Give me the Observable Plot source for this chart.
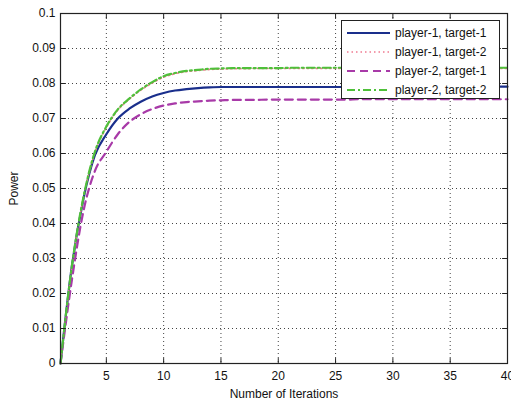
<!DOCTYPE html>
<html><head><meta charset="utf-8">
<script src="https://cdn.jsdelivr.net/npm/d3@7"></script>
<script src="https://cdn.jsdelivr.net/npm/@observablehq/plot@0.6"></script>
<style>
html,body{margin:0;padding:0;background:#fff;}
#wrap{position:relative;width:511px;height:402px;overflow:hidden;}
#legend{position:absolute;left:341px;top:20px;}
</style></head><body><div id="wrap"></div>
<script>
const iterations = [1,2,3,4,5,6,7,8,9,10,11,12,13,14,15,16,17,18,19,20,21,22,23,24,25,26,27,28,29,30,31,32,33,34,35,36,37,38,39,40];
const p1t1 = [0,0.028,0.047,0.0595,0.0655,0.0700,0.0728,0.0748,0.0763,0.0773,0.0780,0.0784,0.0787,0.0789,0.0790,0.0790,0.0790,0.0790,0.0790,0.0790,0.0790,0.0790,0.0790,0.0790,0.0790,0.0790,0.0790,0.0790,0.0790,0.0790,0.0791,0.0791,0.0791,0.0791,0.0791,0.0791,0.0791,0.0791,0.0791,0.0791];
const p1t2 = [0,0.0278,0.0473,0.0602,0.0674,0.0724,0.0755,0.0781,0.0801,0.0818,0.0828,0.0834,0.0837,0.0840,0.0841,0.0842,0.0842,0.0843,0.0843,0.0843,0.0843,0.0843,0.0843,0.0843,0.0843,0.0843,0.0843,0.0843,0.0843,0.0843,0.0843,0.0843,0.0843,0.0843,0.0843,0.0843,0.0843,0.0843,0.0843,0.0843];
const p2t1 = [0,0.024,0.0435,0.0550,0.0605,0.0655,0.0690,0.0712,0.0727,0.0737,0.0743,0.0747,0.0749,0.0751,0.0752,0.0753,0.0753,0.0753,0.0754,0.0754,0.0754,0.0754,0.0754,0.0754,0.0754,0.0754,0.0755,0.0755,0.0755,0.0755,0.0755,0.0755,0.0755,0.0755,0.0755,0.0755,0.0755,0.0755,0.0755,0.0755];
const p2t2 = [0,0.028,0.0475,0.0605,0.0677,0.0726,0.0757,0.0783,0.0804,0.0821,0.0830,0.0836,0.0839,0.0842,0.0843,0.0844,0.0844,0.0844,0.0844,0.0844,0.0845,0.0845,0.0845,0.0845,0.0845,0.0845,0.0845,0.0845,0.0845,0.0845,0.0845,0.0845,0.0845,0.0845,0.0845,0.0845,0.0845,0.0845,0.0845,0.0845];

const seriesNames = ["player-1, target-1","player-1, target-2","player-2, target-1","player-2, target-2"];
const seriesValues = [p1t1, p1t2, p2t1, p2t2];
const seriesColors = ["#1a2f8c","#f07a90","#a83aa8","#4fc03a"];
const seriesDash = [null,"1.5,3","8,5","8,3,2,3"];
const seriesWidth = [2.2,1.6,2.2,2.2];

const xTicks = [5,10,15,20,25,30,35,40];
const yTicks = [0,0.01,0.02,0.03,0.04,0.05,0.06,0.07,0.08,0.09,0.1];
const xDomain = [1,40];
const yDomain = [0,0.1];

const rows = [];
seriesNames.forEach((name, s) => {
  seriesValues[s].forEach((v, i) => rows.push({series: name, iter: iterations[i], power: v}));
});

const tickShape = {draw(ctx, l) { ctx.moveTo(0, 0); ctx.lineTo(0, -l); }};
const tickStyle = {length: 5, anchor: "start", shape: tickShape, stroke: "#222", strokeWidth: 1};
const fmtY = d => d === 0 ? "0" : String(+d.toFixed(2));

const lineMarks = seriesNames.map((name, s) =>
  Plot.line(rows.filter(r => r.series === name), {
    x: "iter", y: "power", stroke: seriesColors[s], strokeWidth: seriesWidth[s],
    strokeDasharray: seriesDash[s], curve: "monotone-x"
  })
);

const chart = Plot.plot({
  width: 511, height: 402,
  marginLeft: 60, marginRight: 4, marginTop: 13, marginBottom: 39,
  style: {fontFamily: "'Liberation Sans', Arial, sans-serif", fontSize: "12px", background: "#fff", color: "#111", overflow: "visible"},
  x: {domain: xDomain},
  y: {domain: yDomain},
  marks: [
    Plot.gridX(xTicks, {stroke: "#222", strokeOpacity: 0.85, strokeDasharray: "1,3"}),
    Plot.gridY(yTicks, {stroke: "#222", strokeOpacity: 0.85, strokeDasharray: "1,3"}),
    ...lineMarks,
    Plot.frame({stroke: "#222", strokeWidth: 1.2}),
    Plot.vector(xTicks, {x: d => d, y: yDomain[0], rotate: 0, ...tickStyle}),
    Plot.vector(xTicks, {x: d => d, y: yDomain[1], rotate: 180, ...tickStyle}),
    Plot.vector(yTicks, {x: xDomain[0], y: d => d, rotate: 90, ...tickStyle}),
    Plot.vector(yTicks, {x: xDomain[1], y: d => d, rotate: -90, ...tickStyle}),
    Plot.axisX(xTicks, {tickSize: 0, tickPadding: 8, label: "Number of Iterations", labelAnchor: "center", labelArrow: "none", labelOffset: 34}),
    Plot.axisY(yTicks, {tickSize: 0, tickPadding: 5, tickFormat: fmtY, label: "Power", labelAnchor: "center", labelArrow: "none", labelOffset: 51})
  ]
});

const wrap = document.getElementById("wrap");
wrap.appendChild(chart);

// legend
const lw = 159, lh = 79, rowY = [13, 32, 51, 70];
const leg = d3.select(wrap).append("svg").attr("id", "legend").attr("width", lw).attr("height", lh)
  .style("font-family", "'Liberation Sans', Arial, sans-serif").style("font-size", "12px");
leg.append("rect").attr("x", 0.5).attr("y", 0.5).attr("width", lw - 1).attr("height", lh - 1)
  .attr("fill", "#fff").attr("stroke", "#222");
seriesNames.forEach((name, s) => {
  leg.append("line").attr("x1", 6).attr("x2", 49).attr("y1", rowY[s]).attr("y2", rowY[s])
    .attr("stroke", seriesColors[s]).attr("stroke-width", seriesWidth[s])
    .attr("stroke-dasharray", seriesDash[s]);
  leg.append("text").attr("x", 54).attr("y", rowY[s]).attr("dy", "0.35em").attr("fill", "#111").text(name);
});
</script></body></html>
